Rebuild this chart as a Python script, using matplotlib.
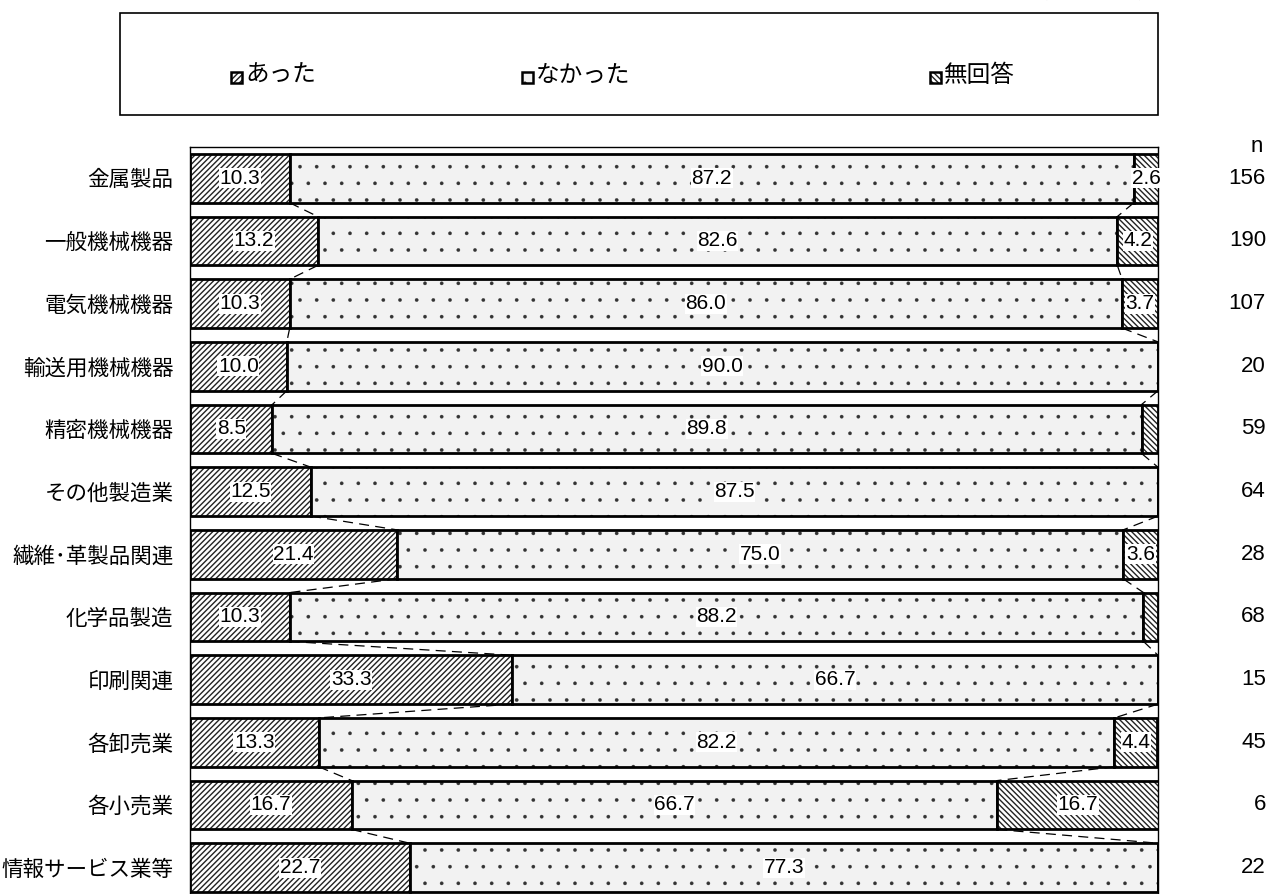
import matplotlib
matplotlib.use("Agg")
import matplotlib.pyplot as plt
from matplotlib.patches import Rectangle
from matplotlib.transforms import blended_transform_factory

plt.rcParams['font.family'] = ['Liberation Sans', 'Noto Sans CJK JP']

categories = ["金属製品", "一般機械機器", "電気機械機器", "輸送用機械機器", "精密機械機器",
              "その他製造業", "繊維･革製品関連", "化学品製造", "印刷関連", "各卸売業",
              "各小売業", "情報サービス業等"]
atta = [10.3, 13.2, 10.3, 10.0, 8.5, 12.5, 21.4, 10.3, 33.3, 13.3, 16.7, 22.7]
nakatta = [87.2, 82.6, 86.0, 90.0, 89.8, 87.5, 75.0, 88.2, 66.7, 82.2, 66.7, 77.3]
mukaito = [2.6, 4.2, 3.7, 0.0, 1.7, 0.0, 3.6, 1.5, 0.0, 4.4, 16.7, 0.0]
n_values = [156, 190, 107, 20, 59, 64, 28, 68, 15, 45, 6, 22]
series_names = ["あった", "なかった", "無回答"]

W, H = 1268, 894
fig = plt.figure(figsize=(W / 100, H / 100), dpi=100)

ax = fig.add_axes([190 / W, (H - 899) / H, (1158 - 190) / W, 752 / H])

ypos = list(range(len(categories)))
bh = 0.78
styles = [
    dict(facecolor="white", hatch="//////", hcolor="#222222", hlw=1.0),
    dict(facecolor="#f2f2f2", hatch=".", hcolor="#333333", hlw=0.2),
    dict(facecolor="white", hatch="\\\\\\\\\\\\", hcolor="#222222", hlw=1.0),
]
series = [atta, nakatta, mukaito]
lefts = [0.0] * len(categories)
cums = []
for vals, st in zip(series, styles):
    plt.rcParams['hatch.linewidth'] = st["hlw"]
    ax.barh(ypos, vals, left=lefts, height=bh, facecolor=st["facecolor"], hatch=st["hatch"],
            edgecolor=st["hcolor"], linewidth=0)
    ax.barh(ypos, vals, left=lefts, height=bh, fill=False, edgecolor="black", linewidth=2.0)
    for i, v in enumerate(vals):
        if v >= 2.0:
            ax.text(lefts[i] + v / 2, i, f"{v:.1f}", ha="center", va="center", fontsize=15,
                    bbox=dict(facecolor="white", edgecolor="none", pad=0.5))
    lefts = [l + v for l, v in zip(lefts, vals)]
    cums.append(list(lefts))

# series lines
for c in cums[:2]:
    for i in range(len(categories) - 1):
        ax.plot([c[i], c[i + 1]], [i + bh / 2, i + 1 - bh / 2], color="black", lw=0.9,
                dashes=(8, 5))

ax.set_xlim(0, 100)
ax.set_ylim(len(categories) - 0.5, -0.5)
ax.set_yticks(ypos)
ax.set_yticklabels(categories, fontsize=15.5)
ax.tick_params(axis="y", length=0, pad=12)
ax.set_xticks([])
for s in ["left", "right", "top"]:
    ax.spines[s].set_linewidth(1.0)
ax.spines["bottom"].set_visible(False)

# n values
tr = blended_transform_factory(fig.transFigure, ax.transData)
for i, nv in enumerate(n_values):
    ax.text(1266 / W, i, str(nv), transform=tr, ha="right", va="center", fontsize=16)
fig.text(1257 / W, 1 - 147 / H, "n", ha="center", va="center", fontsize=16)

# legend box
fig.add_artist(Rectangle((120 / W, 1 - 115 / H), (1158 - 120) / W, (115 - 13) / H,
                         transform=fig.transFigure, fill=False, edgecolor="black", lw=1.2))
leg_x = [231, 522, 930]
for lx, name, st in zip(leg_x, series_names, styles):
    plt.rcParams['hatch.linewidth'] = st["hlw"]
    fig.add_artist(Rectangle((lx / W, 1 - 83 / H), 11 / W, 11 / H, transform=fig.transFigure,
                             facecolor=st["facecolor"], hatch=st["hatch"],
                             edgecolor=st["hcolor"], lw=0))
    fig.add_artist(Rectangle((lx / W, 1 - 83 / H), 11 / W, 11 / H, transform=fig.transFigure,
                             fill=False, edgecolor="black", lw=1.8))
    fig.text((lx + 14) / W, 1 - 76 / H, name, ha="left", va="center", fontsize=17)

# unit label (cut off at top)
fig.text(1160 / W, 1 + 2 / H, "（単位：％）", ha="right", va="baseline", fontsize=16)

fig.savefig("out.png", dpi=100)
